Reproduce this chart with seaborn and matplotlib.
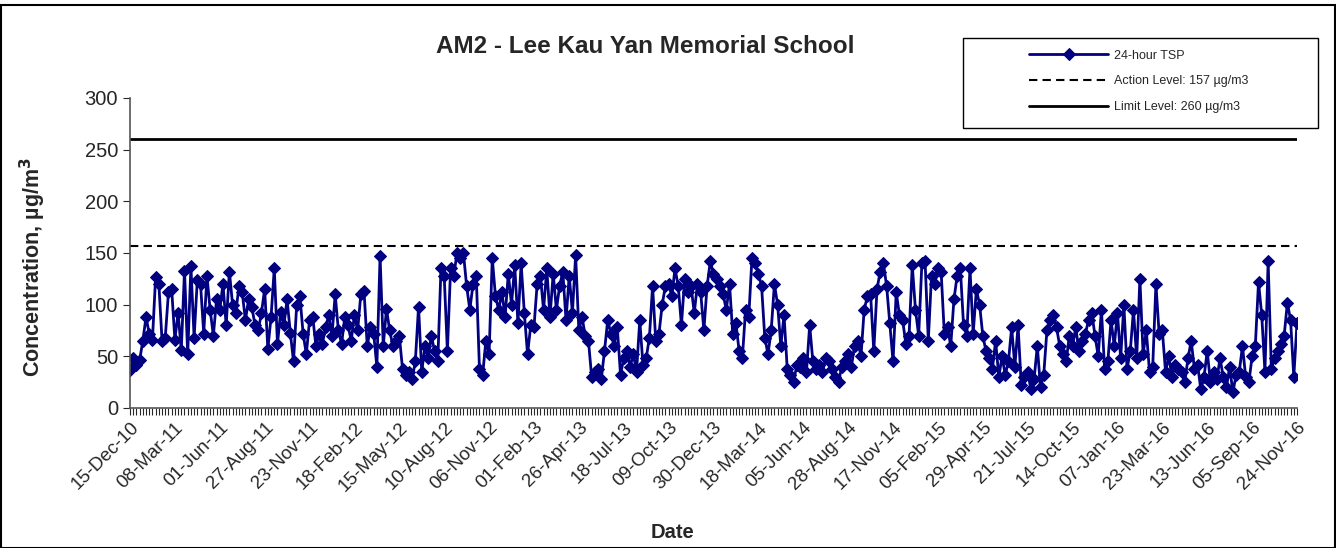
import numpy as np
import pandas as pd
import seaborn as sb
from matplotlib import pyplot as plt
from matplotlib.patches import Rectangle

# 24-hour TSP readings (ug/m3), one every ~6 days
tsp = [
    37, 48, 42, 46, 65, 88, 72, 66, 127, 120, 65, 68, 112, 115,
    66, 92, 56, 133, 52, 137, 68, 124, 120, 72, 128, 95, 70, 105,
    95, 120, 80, 132, 100, 92, 118, 112, 85, 105, 98, 80, 75, 92,
    115, 57, 88, 135, 62, 93, 80, 105, 73, 45, 100, 108, 72, 52,
    85, 88, 60, 72, 62, 78, 90, 70, 110, 75, 62, 88, 80, 65,
    90, 75, 110, 113, 60, 78, 72, 40, 147, 60, 96, 75, 60, 65,
    70, 38, 32, 35, 28, 45, 98, 35, 60, 48, 70, 55, 45, 135,
    128, 55, 135, 128, 150, 145, 150, 118, 95, 120, 128, 38, 32, 65,
    52, 145, 108, 95, 112, 88, 130, 100, 138, 82, 140, 92, 52, 80,
    78, 120, 128, 95, 135, 88, 130, 95, 118, 132, 85, 128, 92, 148,
    75, 88, 70, 65, 30, 35, 38, 28, 55, 85, 72, 60, 78, 32,
    48, 55, 40, 52, 35, 85, 42, 48, 68, 118, 65, 72, 100, 118,
    120, 108, 135, 118, 80, 125, 112, 118, 92, 120, 112, 75, 118, 142,
    130, 125, 118, 110, 95, 120, 72, 82, 55, 48, 95, 88, 145, 140,
    130, 118, 68, 52, 75, 120, 100, 60, 90, 38, 32, 25, 42, 40,
    48, 35, 80, 45, 38, 42, 35, 48, 45, 38, 30, 25, 40, 45,
    52, 40, 60, 65, 50, 95, 108, 110, 55, 115, 132, 140, 118, 82,
    45, 112, 90, 85, 62, 70, 138, 95, 70, 140, 142, 65, 128, 120,
    135, 132, 72, 78, 60, 105, 128, 135, 80, 70, 135, 72, 115, 100,
    70, 55, 48, 38, 65, 30, 50, 32, 45, 78, 40, 80, 22, 30,
    35, 18, 28, 60, 20, 32, 75, 85, 90, 78, 60, 52, 45, 70,
    60, 78, 55, 65, 72, 85, 92, 70, 50, 95, 38, 45, 85, 60,
    92, 48, 100, 38, 55, 95, 48, 125, 52, 75, 35, 40, 120, 72,
    75, 35, 50, 30, 42, 38, 35, 25, 48, 65, 38, 42, 18, 30,
    55, 25, 35, 28, 48, 30, 20, 40, 15, 32, 35, 60, 30, 25,
    50, 60, 122, 90, 35, 142, 38, 48, 55, 62, 70, 102, 85, 30,
    82,
]

date_labels = ['15-Dec-10', '08-Mar-11', '01-Jun-11', '27-Aug-11', '23-Nov-11', '18-Feb-12',
               '15-May-12', '10-Aug-12', '06-Nov-12', '01-Feb-13', '26-Apr-13', '18-Jul-13',
               '09-Oct-13', '30-Dec-13', '18-Mar-14', '05-Jun-14', '28-Aug-14', '17-Nov-14',
               '05-Feb-15', '29-Apr-15', '21-Jul-15', '14-Oct-15', '07-Jan-16', '23-Mar-16',
               '13-Jun-16', '05-Sep-16', '24-Nov-16']

action_level = 157
limit_level = 260
label_step = 14

df = pd.DataFrame({'sample': np.arange(len(tsp)), 'tsp': tsp})

sb.set_style('white')
plt.rcParams['font.family'] = ['Liberation Sans', 'DejaVu Sans']

fig = plt.figure(figsize=(13.36, 5.48), dpi=100)
ax = fig.add_axes([0.0973, 0.2555, 0.8735, 0.5657])

sb.lineplot(ax=ax, data=df, x='sample', y='tsp', color='#000080', marker='D',
            markersize=6.5, markeredgecolor='#000080', linewidth=2, label='24-hour TSP')
ax.axhline(action_level, color='black', linestyle=(0, (4, 2.5)), linewidth=1.5,
           label='Action Level: 157 µg/m3')
ax.axhline(limit_level, color='black', linestyle='-', linewidth=2,
           label='Limit Level: 260 µg/m3')

ax.set_xlim(0, len(tsp) - 1)
ax.set_ylim(0, 300)
ax.set_yticks(range(0, 301, 50))

major = np.arange(0, len(date_labels) * label_step, label_step)
ax.set_xticks(major)
ax.set_xticklabels(date_labels, rotation=45, ha='right', rotation_mode='anchor')
ax.set_xticks(np.arange(len(tsp)), minor=True)
ax.tick_params(axis='x', which='both', direction='out', length=5, width=0.8,
               bottom=True, labelsize=13.5, pad=3)
ax.tick_params(axis='y', direction='out', length=5, width=0.8, left=True, labelsize=14.5)

for side in ['top', 'right']:
    ax.spines[side].set_visible(False)
for side in ['left', 'bottom']:
    ax.spines[side].set_color('#555555')
    ax.spines[side].set_linewidth(1.2)

ax.set_xlabel('Date', fontsize=14.5, fontweight='bold')
ax.xaxis.set_label_coords(0.465, -0.37)
ax.set_ylabel('Concentration, µg/m$^\\mathbf{3}$', fontsize=15.5, fontweight='bold')
ax.yaxis.set_label_coords(-0.07, 0.455)
ax.get_legend().remove()

fig.text(0.483, 0.915, 'AM2 - Lee Kau Yan Memorial School', ha='center', va='center',
         fontsize=17.5, fontweight='bold')

# legend box and entries
fig.add_artist(Rectangle((0.721, 0.766), 0.2655, 0.165, transform=fig.transFigure,
                         facecolor='white', edgecolor='black', linewidth=1, zorder=5))
handles, labels = ax.get_legend_handles_labels()
leg = fig.legend(handles, labels, loc='upper left', bbox_to_anchor=(0.762, 0.93),
                 frameon=False, fontsize=9, handlelength=6.3, labelspacing=1.1,
                 handletextpad=0.5)
leg.set_zorder(6)

# outer chart border
fig.add_artist(Rectangle((0.001, 0.0), 0.998, 0.99, transform=fig.transFigure,
                         facecolor='none', edgecolor='black', linewidth=1.5))

plt.savefig('out.png', dpi=100)
